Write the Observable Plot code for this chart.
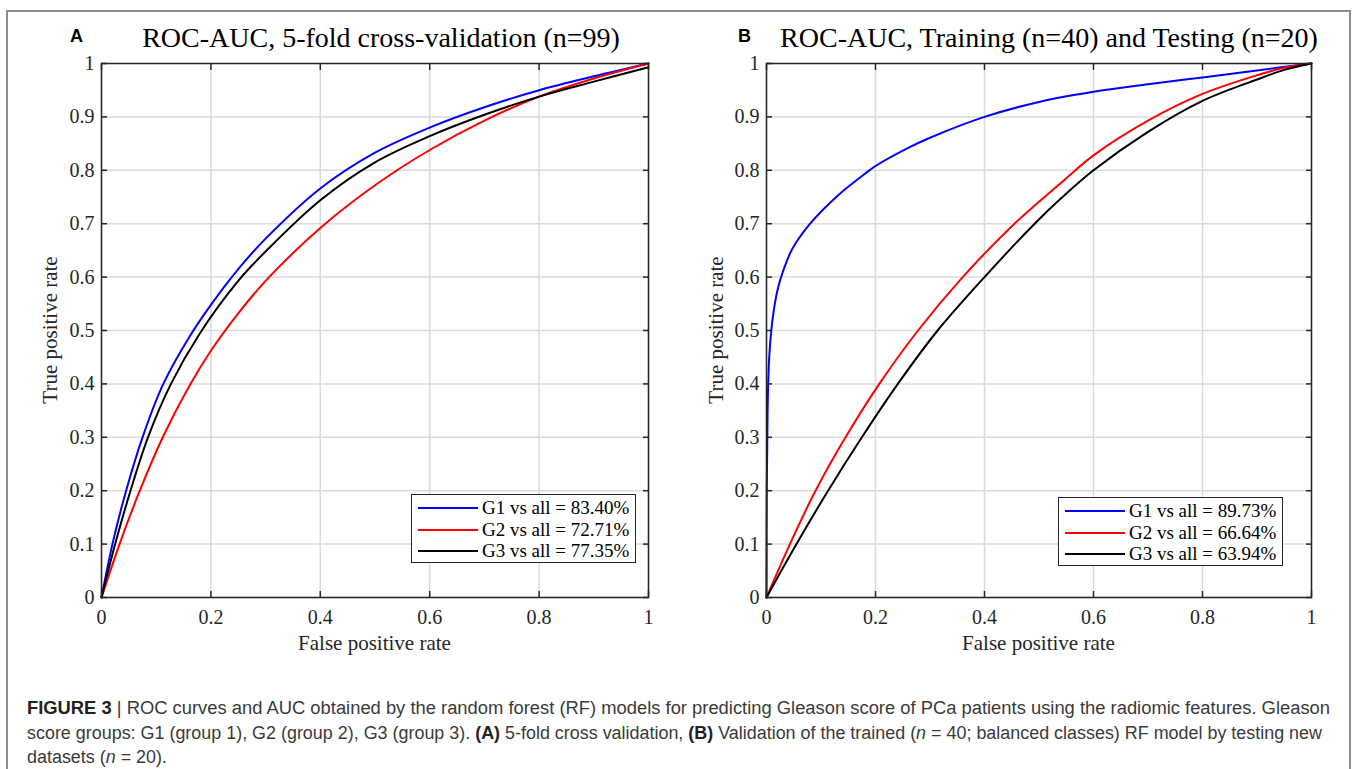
<!DOCTYPE html>
<html>
<head>
<meta charset="utf-8">
<script src="https://cdn.jsdelivr.net/npm/d3@7"></script>
<script src="https://cdn.jsdelivr.net/npm/@observablehq/plot@0.6"></script>
<style>
html,body{margin:0;padding:0;background:#fff;}
#page{position:relative;width:1357px;height:769px;overflow:hidden;background:#fff;}
.border{position:absolute;left:6px;top:10px;width:1345px;height:762px;border:2px solid #8e8e8e;box-sizing:border-box;}
.panel{position:absolute;top:0;}
.panel svg{overflow:visible;}
.title{position:absolute;font-family:"Liberation Serif","Times New Roman",serif;font-size:28px;line-height:28px;white-space:nowrap;color:#000;transform:translateX(-50%);}
.letter{position:absolute;font-family:"Liberation Sans",Arial,sans-serif;font-weight:bold;font-size:18px;line-height:18px;color:#000;}
.xlabel{position:absolute;font-family:"Liberation Serif","Times New Roman",serif;font-size:21px;line-height:21px;white-space:nowrap;color:#262626;transform:translateX(-50%);}
.ylabel{position:absolute;font-family:"Liberation Serif","Times New Roman",serif;font-size:21px;line-height:21px;white-space:nowrap;color:#262626;transform:translate(-50%,-50%) rotate(-90deg);}
.legend{position:absolute;border:1.5px solid #262626;background:#fff;box-sizing:border-box;}
.legend .sw{position:absolute;height:0;border-top:2px solid #000;}
.legend .tx{position:absolute;font-family:"Liberation Serif","Times New Roman",serif;font-size:19px;line-height:19px;white-space:nowrap;color:#000;}
.cap{position:absolute;left:27px;font-family:"Liberation Sans Narrow","Liberation Sans",Arial,sans-serif;font-size:18px;line-height:20px;white-space:nowrap;color:#3a3a3a;transform-origin:0 50%;}
.cap b{color:#222;}
</style>
</head>
<body>
<div id="page">
  <div class="border"></div>
</div>
<script>
// ---------- data ----------
const seriesNames = ["G1 vs all", "G2 vs all", "G3 vs all"];
const seriesColors = ["#0000ff", "#ff0000", "#000000"];
const aucA = ["83.40%", "72.71%", "77.35%"];
const aucB = ["89.73%", "66.64%", "63.94%"];

const xTicks = [0, 0.2, 0.4, 0.6, 0.8, 1];
const xTickLabels = ["0", "0.2", "0.4", "0.6", "0.8", "1"];
const yTicks = [0, 0.1, 0.2, 0.3, 0.4, 0.5, 0.6, 0.7, 0.8, 0.9, 1];
const yTickLabels = ["0", "0.1", "0.2", "0.3", "0.4", "0.5", "0.6", "0.7", "0.8", "0.9", "1"];

// Panel A: 5-fold cross-validation
const A_G1_fpr = [0, 0.02, 0.045, 0.075, 0.113, 0.16, 0.2, 0.25, 0.3, 0.4, 0.5, 0.6, 0.7, 0.8, 0.9, 1];
const A_G1_tpr = [0, 0.1, 0.2, 0.3, 0.4, 0.487, 0.548, 0.615, 0.672, 0.766, 0.833, 0.88, 0.918, 0.95, 0.976, 1];
const A_G2_fpr = [0, 0.033, 0.07, 0.112, 0.16, 0.2, 0.25, 0.3, 0.4, 0.5, 0.6, 0.7, 0.8, 0.9, 1];
const A_G2_tpr = [0, 0.1, 0.2, 0.3, 0.395, 0.462, 0.532, 0.593, 0.692, 0.772, 0.838, 0.893, 0.938, 0.972, 1];
const A_G3_fpr = [0, 0.025, 0.053, 0.085, 0.127, 0.18, 0.25, 0.3, 0.4, 0.5, 0.6, 0.7, 0.8, 0.9, 1];
const A_G3_tpr = [0, 0.1, 0.2, 0.3, 0.4, 0.495, 0.593, 0.648, 0.744, 0.815, 0.864, 0.904, 0.938, 0.966, 0.993];

// Panel B: training (n=40) and testing (n=20)
const B_G1_fpr = [0, 0.0005, 0.002, 0.005, 0.011, 0.02, 0.03, 0.047, 0.08, 0.13, 0.18, 0.2, 0.26, 0.3, 0.4, 0.5, 0.6, 0.7, 0.8, 0.9, 1];
const B_G1_tpr = [0, 0.2, 0.35, 0.45, 0.52, 0.575, 0.61, 0.652, 0.7, 0.752, 0.793, 0.808, 0.842, 0.861, 0.9, 0.928, 0.947, 0.961, 0.974, 0.987, 1];
const B_G2_fpr = [0, 0.043, 0.09, 0.145, 0.207, 0.278, 0.36, 0.455, 0.541, 0.6, 0.7, 0.8, 0.9, 0.95, 1];
const B_G2_tpr = [0, 0.1, 0.2, 0.3, 0.4, 0.5, 0.6, 0.7, 0.777, 0.828, 0.893, 0.943, 0.978, 0.992, 1];
const B_G3_fpr = [0, 0.055, 0.113, 0.175, 0.241, 0.314, 0.4, 0.492, 0.541, 0.6, 0.7, 0.8, 0.9, 0.95, 1];
const B_G3_tpr = [0, 0.1, 0.2, 0.3, 0.4, 0.5, 0.6, 0.7, 0.748, 0.8, 0.872, 0.93, 0.97, 0.988, 1];

const titleA = "ROC-AUC, 5-fold cross-validation (n=99)";
const titleB = "ROC-AUC, Training (n=40) and Testing (n=20)";
const xLabel = "False positive rate";
const yLabel = "True positive rate";

// ---------- build ----------
function rows(name, fpr, tpr) {
  return fpr.map((x, i) => ({series: name, fpr: x, tpr: tpr[i]}));
}
const dataA = [
  ...rows(seriesNames[0], A_G1_fpr, A_G1_tpr),
  ...rows(seriesNames[1], A_G2_fpr, A_G2_tpr),
  ...rows(seriesNames[2], A_G3_fpr, A_G3_tpr)
];
const dataB = [
  ...rows(seriesNames[0], B_G1_fpr, B_G1_tpr),
  ...rows(seriesNames[1], B_G2_fpr, B_G2_tpr),
  ...rows(seriesNames[2], B_G3_fpr, B_G3_tpr)
];

const page = document.getElementById("page");
const axisColor = "#262626";
const gridColor = "#dadada";

function makePlot(data, width, marginLeft, marginRight) {
  const fmtX = d => xTickLabels[xTicks.indexOf(d)];
  const fmtY = d => yTickLabels[yTicks.indexOf(d)];
  return Plot.plot({
    width: width,
    height: 680,
    marginLeft: marginLeft,
    marginRight: marginRight,
    marginTop: 63,
    marginBottom: 83,
    x: {domain: [0, 1]},
    y: {domain: [0, 1]},
    color: {domain: seriesNames, range: seriesColors},
    style: {fontFamily: "'Liberation Serif','Times New Roman',serif", fontSize: "20px", color: axisColor, background: "transparent", overflow: "visible"},
    marks: [
      Plot.gridX(xTicks, {stroke: gridColor, strokeOpacity: 1, strokeWidth: 1.5}),
      Plot.gridY(yTicks, {stroke: gridColor, strokeOpacity: 1, strokeWidth: 1.5}),
      Plot.line(data, {x: "fpr", y: "tpr", z: "series", stroke: "series", strokeWidth: 2, curve: "catmull-rom"}),
      Plot.frame({stroke: axisColor, strokeWidth: 1.5}),
      Plot.axisX(xTicks, {anchor: "bottom", tickSize: 0, tickPadding: 12, tickFormat: fmtX, label: null, fontSize: 20, fill: axisColor}),
      Plot.axisY(yTicks, {anchor: "left", tickSize: 0, tickPadding: 7, tickFormat: fmtY, label: null, fontSize: 20, fill: axisColor}),
      Plot.axisX(xTicks, {anchor: "bottom", tickSize: 6, dy: -6, tickFormat: () => "", label: null, stroke: axisColor, strokeWidth: 1.5}),
      Plot.axisX(xTicks, {anchor: "top", tickSize: 6, dy: 6, tickFormat: () => "", label: null, stroke: axisColor, strokeWidth: 1.5}),
      Plot.axisY(yTicks, {anchor: "left", tickSize: 6, dx: 6, tickFormat: () => "", label: null, stroke: axisColor, strokeWidth: 1.5}),
      Plot.axisY(yTicks, {anchor: "right", tickSize: 6, dx: -6, tickFormat: () => "", label: null, stroke: axisColor, strokeWidth: 1.5})
    ]
  });
}

function addDiv(cls, text, css) {
  const d = document.createElement("div");
  d.className = cls;
  d.textContent = text;
  Object.assign(d.style, css);
  page.appendChild(d);
  return d;
}

function addLegend(left, top, aucs) {
  const box = document.createElement("div");
  box.className = "legend";
  Object.assign(box.style, {left: left + "px", top: top + "px", width: "225px", height: "69px"});
  seriesNames.forEach((name, i) => {
    const cy = 13 + i * 21.5;
    const sw = document.createElement("div");
    sw.className = "sw";
    Object.assign(sw.style, {left: "6px", width: "60px", top: (cy - 1) + "px", borderTopColor: seriesColors[i]});
    box.appendChild(sw);
    const tx = document.createElement("div");
    tx.className = "tx";
    tx.textContent = name + " = " + aucs[i];
    Object.assign(tx.style, {left: "70px", top: (cy - 10) + "px"});
    box.appendChild(tx);
  });
  page.appendChild(box);
}

// Panel A
const pA = document.createElement("div");
pA.className = "panel";
pA.style.left = "0px";
pA.appendChild(makePlot(dataA, 680, 101, 32));
page.appendChild(pA);

// Panel B
const pB = document.createElement("div");
pB.className = "panel";
pB.style.left = "680px";
pB.appendChild(makePlot(dataB, 677, 86, 46));
page.appendChild(pB);

// titles and labels
addDiv("letter", "A", {left: "70px", top: "27px"});
addDiv("title", titleA, {left: "381px", top: "24px"});
addDiv("letter", "B", {left: "738px", top: "27px"});
addDiv("title", titleB, {left: "1049px", top: "24px"});

addDiv("xlabel", xLabel, {left: "374.5px", top: "633px"});
addDiv("xlabel", xLabel, {left: "1038.5px", top: "633px"});
addDiv("ylabel", yLabel, {left: "50px", top: "330px"});
addDiv("ylabel", yLabel, {left: "716px", top: "330px"});

addLegend(411, 494, aucA);
addLegend(1058, 497, aucB);

// caption
const capLines = [
  {html: "<b>FIGURE 3</b> | ROC curves and AUC obtained by the random forest (RF) models for predicting Gleason score of PCa patients using the radiomic features. Gleason", target: 1303},
  {html: "score groups: G1 (group 1), G2 (group 2), G3 (group 3). <b>(A)</b> 5-fold cross validation, <b>(B)</b> Validation of the trained (<i>n</i> = 40; balanced classes) RF model by testing new", target: 1295},
  {html: "datasets (<i>n</i> = 20).", target: null}
];
let lastScale = 1;
capLines.forEach((ln, i) => {
  const d = document.createElement("div");
  d.className = "cap";
  d.innerHTML = ln.html;
  d.style.top = (698 + i * 24.5) + "px";
  page.appendChild(d);
  const w = d.getBoundingClientRect().width;
  const s = ln.target ? ln.target / w : lastScale;
  lastScale = s;
  d.style.transform = "scaleX(" + s + ")";
});
</script>
</body>
</html>
